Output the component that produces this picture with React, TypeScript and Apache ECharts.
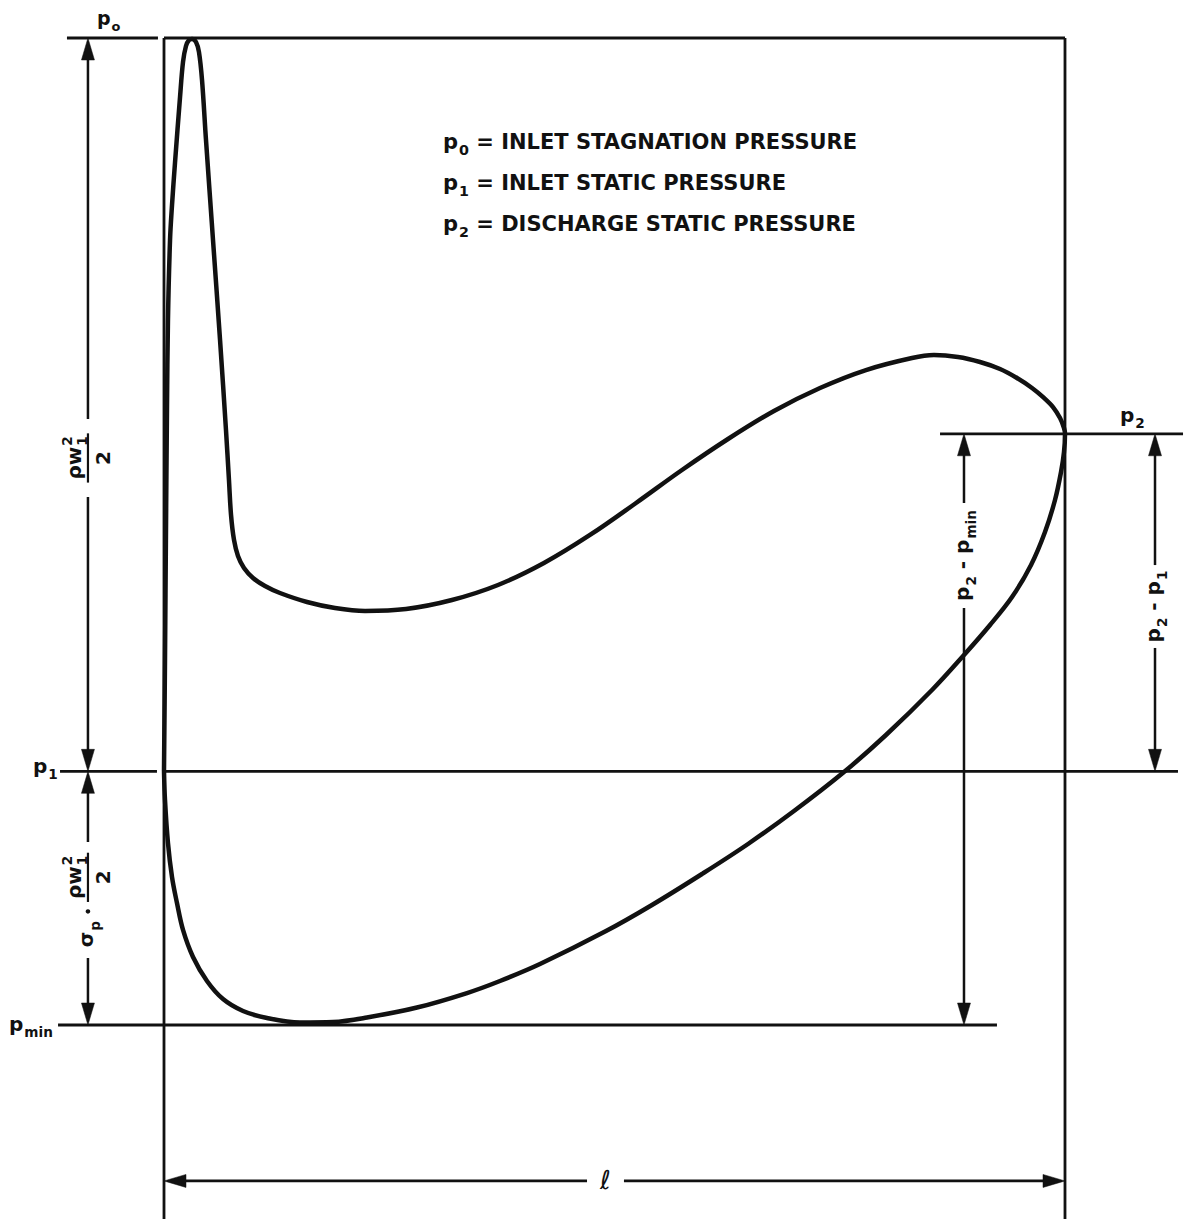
import React, { useEffect, useRef } from "react";
import * as echarts from "echarts";

const WIDTH = 1185;
const HEIGHT = 1226;
const FONT = '"DejaVu Sans", "Liberation Sans", Arial, sans-serif';
const INK = "#111111";

// Pressure levels, scaled so that p_min = 0 and p_o = 1
const P0 = 1.0;
const P2 = 0.599;
const P1 = 0.257;
const PMIN = 0.0;

// Visible window: chord position x/ℓ (0 = leading edge, 1 = trailing edge) and scaled pressure
const X_RANGE = [-0.18202, 1.13319];
const P_RANGE = [-0.20365, 1.0385];

// Blade surface pressure, upper branch from the leading edge to the trailing edge
const upperChord = [
  0, 0.0011, 0.0022, 0.0033, 0.0044, 0.0067, 0.0089, 0.0122, 0.0178, 0.0211,
  0.0244, 0.0278, 0.0311, 0.0355, 0.0388, 0.0422, 0.0466, 0.0544, 0.0622, 0.0688,
  0.0721, 0.0744, 0.0777, 0.0821, 0.0888, 0.0988, 0.1121, 0.1287, 0.1587, 0.1898,
  0.2231, 0.2686, 0.3196, 0.3707, 0.4217, 0.4728, 0.5239, 0.5749, 0.626, 0.677,
  0.7281, 0.7791, 0.8302, 0.8546, 0.8812, 0.9057, 0.9279, 0.9467, 0.9634, 0.9767,
  0.9867, 0.9945, 0.9989, 1.0,
];
const upperPressure = [
  0.2573, 0.3698, 0.5015, 0.6231, 0.7143, 0.7953, 0.8308, 0.8734, 0.9402, 0.9757,
  0.9919, 0.998, 0.999, 0.9959, 0.9858, 0.9574, 0.8967, 0.7953, 0.694, 0.6028,
  0.5522, 0.5167, 0.4914, 0.4752, 0.463, 0.4529, 0.4448, 0.4377, 0.4286, 0.4225,
  0.4195, 0.4215, 0.4306, 0.4458, 0.4681, 0.4965, 0.5289, 0.5623, 0.5937, 0.6221,
  0.6454, 0.6636, 0.6758, 0.6788, 0.6768, 0.6717, 0.6646, 0.6555, 0.6454, 0.6353,
  0.6261, 0.615, 0.6049, 0.5988,
];

// Lower branch, from just past the trailing edge back to the leading edge
const lowerChord = [
  0.9989, 0.9956, 0.9889, 0.9778, 0.9623, 0.9412, 0.9168, 0.8879, 0.8524, 0.8013,
  0.7547, 0.6992, 0.6482, 0.5971, 0.5416, 0.4906, 0.4173, 0.3729, 0.3363, 0.2808,
  0.2253, 0.1876, 0.1509, 0.1143, 0.0877, 0.0655, 0.0477, 0.0322, 0.0211, 0.0144,
  0.0089, 0.0044, 0.0011, 0,
];
const lowerPressure = [
  0.5805, 0.5603, 0.5319, 0.4995, 0.4661, 0.4336, 0.4053, 0.3749, 0.3394, 0.2938,
  0.2563, 0.2168, 0.1834, 0.153, 0.1216, 0.0952, 0.0618, 0.0446, 0.0324, 0.0177,
  0.0076, 0.003, 0.0025, 0.0071, 0.0142, 0.0263, 0.0446, 0.0689, 0.0963, 0.1236,
  0.1499, 0.1844, 0.228, 0.2573,
];

// Level and outline rules: [x start, p start, x end, p end]
const BOX_FOOT = -0.1966;
const levelLines = [
  [-0.1077, P0, -0.0067, P0],
  [0, P0, 1, P0],
  [0, P0, 0, BOX_FOOT],
  [1, P0, 1, BOX_FOOT],
  [-0.1154, P1, -0.0078, P1],
  [0, P1, 1.1254, P1],
  [-0.1176, PMIN, 0.9245, PMIN],
  [0.8613, P2, 1.131, P2],
];

// Vertical dimension lines: chord position, end levels and the break left for the label
const dimChord = [-0.0844, -0.0844, 0.8879, 1.0999];
const dimFrom = [P0, P1, P2, P2];
const dimTo = [P1, PMIN, PMIN, P1];
const dimBreakTop = [0.614, 0.1854, 0.5289, 0.466];
const dimBreakBottom = [0.535, 0.0679, 0.4225, 0.382];

// Chord length dimension ℓ
const chordDimLevel = -0.158;
const chordDimBreak = [0.4695, 0.5105];

const legendRows = [
  ["0", "INLET STAGNATION PRESSURE"],
  ["1", "INLET STATIC PRESSURE"],
  ["2", "DISCHARGE STATIC PRESSURE"],
];

// ---------- text helpers ----------
const measureCtx =
  typeof document !== "undefined" ? document.createElement("canvas").getContext("2d") : null;

function measure(text: string, size: number, weight = "bold"): number {
  if (!measureCtx) return text.length * size * 0.62;
  measureCtx.font = `${weight} ${size}px ${FONT}`;
  return measureCtx.measureText(text).width;
}

type Piece = string | { sub?: string; sup?: string };

function glyph(text: string, x: number, baseline: number, size: number, weight = "bold") {
  return {
    type: "text",
    x,
    y: baseline - 0.346 * size,
    silent: true,
    style: {
      text,
      font: `${weight} ${size}px ${FONT}`,
      fill: INK,
      align: "left",
      verticalAlign: "middle",
      textAlign: "left",
      textVerticalAlign: "middle",
    },
  };
}

// A run of text with subscripts / superscripts, baseline at y = 0, starting at x = 0
function mathRow(pieces: Piece[], size: number) {
  const els: any[] = [];
  let cx = 0;
  const small = size * 0.68;
  for (const p of pieces) {
    if (typeof p === "string") {
      els.push(glyph(p, cx, 0, size));
      cx += measure(p, size);
    } else {
      let w = 0;
      if (p.sub) {
        els.push(glyph(p.sub, cx + 1, 0.3 * size, small));
        w = Math.max(w, measure(p.sub, small) + 1);
      }
      if (p.sup) {
        els.push(glyph(p.sup, cx + 1, -0.45 * size, small));
        w = Math.max(w, measure(p.sup, small) + 1);
      }
      cx += w;
    }
  }
  return { els, width: cx };
}

function fraction(num: Piece[], den: Piece[], size: number) {
  const n = mathRow(num, size);
  const d = mathRow(den, size);
  const len = Math.max(n.width, d.width) + 6;
  return {
    width: len,
    els: [
      { type: "group", x: (len - n.width) / 2, y: -7, children: n.els },
      {
        type: "line",
        shape: { x1: 0, y1: 0, x2: len, y2: 0 },
        style: { stroke: INK, lineWidth: 2.2 },
      },
      { type: "group", x: (len - d.width) / 2, y: 7 + 0.73 * size, children: d.els },
    ],
  };
}

type LabelItem = { row: Piece[] } | { frac: [Piece[], Piece[]] } | { dot: true };

// Label laid out along local x and centred on the origin (x-height centred on y = 0)
function dimensionLabel(items: LabelItem[], size: number) {
  const blocks = items.map((it: any) => {
    if (it.row) {
      const r = mathRow(it.row, size);
      return { width: r.width, make: (x: number) => ({ type: "group", x, y: 0.27 * size, children: r.els }) };
    }
    if (it.frac) {
      const f = fraction(it.frac[0], it.frac[1], size);
      return { width: f.width, make: (x: number) => ({ type: "group", x, y: 0, children: f.els }) };
    }
    return {
      width: 5,
      make: (x: number) => ({ type: "circle", shape: { cx: x + 2.5, cy: 0, r: 2.3 }, style: { fill: INK } }),
    };
  });
  const gap = 7;
  const total = blocks.reduce((s, b) => s + b.width, 0) + gap * (blocks.length - 1);
  let cx = -total / 2;
  const children: any[] = [];
  for (const b of blocks) {
    children.push(b.make(cx));
    cx += b.width + gap;
  }
  return children;
}

const halfRho: Piece[] = ["ρw", { sub: "1", sup: "2" }];
const dimLabelItems: LabelItem[][] = [
  [{ frac: [halfRho, ["2"]] }],
  [{ row: ["σ", { sub: "p" }] }, { dot: true }, { frac: [halfRho, ["2"]] }],
  [{ row: ["p", { sub: "2" }, " - p", { sub: "min" }] }],
  [{ row: ["p", { sub: "2" }, " - p", { sub: "1" }] }],
];

// ---------- drawing helpers ----------
const ARROW_LEN = 22;
const ARROW_HALF = 6.5;

function arrowHead(tx: number, ty: number, dx: number, dy: number) {
  const bx = tx - dx * ARROW_LEN;
  const by = ty - dy * ARROW_LEN;
  return {
    type: "polygon",
    shape: {
      points: [
        [tx, ty],
        [bx - dy * ARROW_HALF, by + dx * ARROW_HALF],
        [bx + dy * ARROW_HALF, by - dx * ARROW_HALF],
      ],
    },
    style: { fill: INK, stroke: INK, lineWidth: 0.5 },
  };
}

function segment(x1: number, y1: number, x2: number, y2: number, w: number) {
  return {
    type: "line",
    shape: { x1, y1, x2, y2 },
    style: { stroke: INK, lineWidth: w, lineCap: "butt" },
  };
}

function renderLevel(_params: any, api: any) {
  const a = api.coord([api.value(0), api.value(1)]);
  const b = api.coord([api.value(2), api.value(3)]);
  return segment(a[0], a[1], b[0], b[1], 2.8);
}

function renderDim(params: any, api: any) {
  const i = params.dataIndex;
  const x = api.value(0);
  const top = api.coord([x, api.value(1)]);
  const bottom = api.coord([x, api.value(2)]);
  const gTop = api.coord([x, api.value(3)]);
  const gBot = api.coord([x, api.value(4)]);
  const px = top[0];
  return {
    type: "group",
    children: [
      segment(px, top[1] + ARROW_LEN * 0.6, px, gTop[1], 2.5),
      segment(px, gBot[1], px, bottom[1] - ARROW_LEN * 0.6, 2.5),
      arrowHead(px, top[1], 0, -1),
      arrowHead(px, bottom[1], 0, 1),
      {
        type: "group",
        x: px,
        y: (gTop[1] + gBot[1]) / 2,
        rotation: Math.PI / 2,
        children: dimensionLabel(dimLabelItems[i], 20),
      },
    ],
  };
}

function renderChordDim(_params: any, api: any) {
  const y = api.value(1);
  const left = api.coord([api.value(0), y]);
  const right = api.coord([api.value(2), y]);
  const g1 = api.coord([api.value(3), y]);
  const g2 = api.coord([api.value(4), y]);
  const py = left[1];
  return {
    type: "group",
    children: [
      segment(left[0] + ARROW_LEN * 0.6, py, g1[0], py, 2.8),
      segment(g2[0], py, right[0] - ARROW_LEN * 0.6, py, 2.8),
      arrowHead(left[0], py, -1, 0),
      arrowHead(right[0], py, 1, 0),
      {
        type: "text",
        x: (g1[0] + g2[0]) / 2,
        y: py - 1,
        silent: true,
        style: {
          text: "ℓ",
          font: `normal 26px ${FONT}`,
          fill: INK,
          align: "center",
          verticalAlign: "middle",
          textAlign: "center",
          textVerticalAlign: "middle",
        },
      },
    ],
  };
}

function placedRow(pieces: Piece[], x: number, baseline: number, size: number) {
  return { type: "group", x, y: baseline, children: mathRow(pieces, size).els };
}

function staticLabels() {
  const els: any[] = [
    placedRow(["p", { sub: "o" }], 97, 25, 19),
    placedRow(["p", { sub: "1" }], 33, 773, 20),
    placedRow(["p", { sub: "min" }], 9, 1031, 20),
    placedRow(["p", { sub: "2" }], 1120, 422, 20),
  ];
  legendRows.forEach((r, k) => {
    els.push(placedRow(["p", { sub: r[0] }, " = " + r[1]], 443, 149 + k * 41, 21));
  });
  return els;
}

function buildOption() {
  const curve: number[][] = [];
  upperChord.forEach((x, k) => curve.push([x, upperPressure[k]]));
  lowerChord.forEach((x, k) => curve.push([x, lowerPressure[k]]));

  const dimData = dimChord.map((x, k) => [x, dimFrom[k], dimTo[k], dimBreakTop[k], dimBreakBottom[k]]);

  return {
    animation: false,
    backgroundColor: "#ffffff",
    grid: { left: 0, right: 0, top: 0, bottom: 0, containLabel: false },
    xAxis: { type: "value", min: X_RANGE[0], max: X_RANGE[1], show: false },
    yAxis: { type: "value", min: P_RANGE[0], max: P_RANGE[1], show: false },
    tooltip: { show: false },
    series: [
      {
        type: "custom",
        name: "levels",
        renderItem: renderLevel,
        data: levelLines,
        encode: { x: [0, 2], y: [1, 3] },
        clip: false,
        silent: true,
        z: 1,
      },
      {
        type: "custom",
        name: "dimensions",
        renderItem: renderDim,
        data: dimData,
        encode: { x: 0, y: [1, 2] },
        clip: false,
        silent: true,
        z: 2,
      },
      {
        type: "custom",
        name: "chord length",
        renderItem: renderChordDim,
        data: [[0, chordDimLevel, 1, chordDimBreak[0], chordDimBreak[1]]],
        encode: { x: [0, 2], y: 1 },
        clip: false,
        silent: true,
        z: 2,
      },
      {
        type: "line",
        name: "blade surface pressure",
        data: curve,
        smooth: 0.35,
        showSymbol: false,
        symbol: "none",
        lineStyle: { color: INK, width: 4.5, cap: "round", join: "round" },
        silent: true,
        z: 3,
      },
    ],
    graphic: { elements: staticLabels() },
  };
}

export default function App() {
  const ref = useRef<HTMLDivElement>(null);
  useEffect(() => {
    document.body.style.margin = "0";
    const chart = echarts.init(ref.current!, null, { renderer: "svg" });
    chart.setOption(buildOption() as any);
    return () => chart.dispose();
  }, []);
  return <div ref={ref} style={{ width: WIDTH, height: HEIGHT, background: "#fff" }} />;
}
